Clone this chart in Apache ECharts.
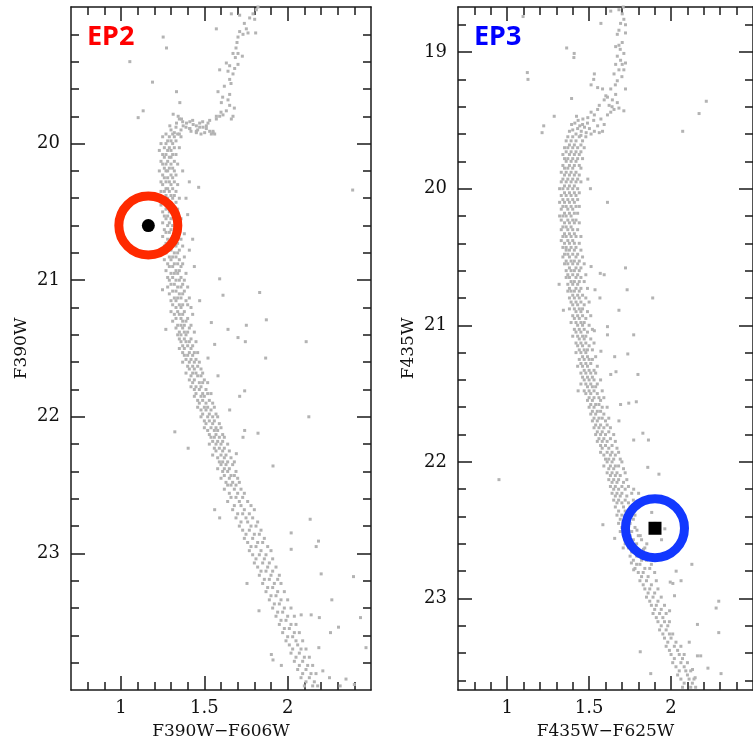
<!DOCTYPE html>
<html>
<head>
<meta charset="utf-8">
<script src="https://cdn.jsdelivr.net/npm/echarts@6/dist/echarts.min.js"></script>
<style>
html, body { margin: 0; padding: 0; background: #fff; }
#chart { width: 753px; height: 745px; }
</style>
</head>
<body>
<div id="chart"></div>
<script>
// tick values (colour axis shared by both panels)
var xMajorTicks = [1, 1.5, 2];
var xMinorTicks = [0.8, 0.9, 1.1, 1.2, 1.3, 1.4, 1.6, 1.7, 1.8, 1.9, 2.1, 2.2, 2.3, 2.4];
var ep2YMajor = [20, 21, 22, 23];
var ep2YMinor = [19.2, 19.4, 19.6, 19.8, 20.2, 20.4, 20.6, 20.8, 21.2, 21.4, 21.6, 21.8, 22.2, 22.4, 22.6, 22.8, 23.2, 23.4, 23.6, 23.8];
var ep3YMajor = [19, 20, 21, 22, 23];
var ep3YMinor = [18.8, 19.2, 19.4, 19.6, 19.8, 20.2, 20.4, 20.6, 20.8, 21.2, 21.4, 21.6, 21.8, 22.2, 22.4, 22.6, 22.8, 23.2, 23.4, 23.6];

// EP2 panel: F390W-F606W vs F390W
var ep2Star = [1.164, 20.6];
var ep2Rgb = [
  [1.812,19.02],[1.792,19.05],[1.772,19.08],[1.802,19.09],[1.712,19.06],[1.662,19.05],[1.822,19.0],[1.752,19.16],
  [1.712,19.18],[1.762,19.19],[1.702,19.22],[1.732,19.20],[1.808,19.19],[1.74,19.12],[1.696,19.26],[1.69,19.30],
  [1.672,19.34],[1.702,19.34],[1.686,19.37],[1.728,19.36],[1.652,19.43],[1.702,19.42],[1.682,19.45],[1.642,19.47],
  [1.672,19.49],[1.652,19.53],[1.632,19.41],[1.592,19.46],[1.66,19.56],[1.62,19.58],[1.582,19.62],[1.652,19.64],
  [1.61,19.66],[1.642,19.68],[1.602,19.70],[1.652,19.72],[1.68,19.74],[1.632,19.76],[1.60,19.77],[1.672,19.80],
  [1.662,19.82],[1.572,19.80],[1.532,19.83],[1.512,19.87],[1.472,19.88],[1.452,19.91],[1.412,19.89],[1.552,19.91],
  [1.562,19.93],[1.313,19.785],[1.343,19.80],[1.363,19.82],[1.393,19.85],[1.413,19.84],[1.433,19.86],[1.452,19.87],
  [1.472,19.85],[1.492,19.88],[1.512,19.89],[1.532,19.91],[1.552,19.92],[1.522,19.85],[1.572,19.82],[1.592,19.80],
  [1.612,19.79],[1.373,19.87],[1.333,19.85],[1.293,19.87],[1.413,19.89],[1.452,19.92],[1.502,19.92],[1.542,19.93],
  [1.35,19.82],[1.37,19.84],[1.43,19.83],[1.49,19.84],[1.30,19.90],[1.33,19.88],[1.36,19.90],[1.39,19.88],
  [1.42,19.91],[1.46,19.90],[1.48,19.93],[1.32,19.92],[1.35,19.93]
];
// main sequence rows: [F390W, colours...]
var ep2MsRows = [
  [19.93,1.27,1.31,1.34],[19.95,1.25,1.29,1.32,1.36],[19.98,1.28,1.30,1.33],[20.00,1.24,1.27,1.31],
  [20.03,1.26,1.29,1.32,1.35],[20.05,1.23,1.28,1.30],[20.08,1.25,1.27,1.31,1.33],[20.10,1.26,1.29,1.30],
  [20.13,1.24,1.28,1.32],[20.15,1.25,1.27,1.30,1.34],[20.18,1.26,1.29,1.31],[20.20,1.23,1.27,1.28,1.32],
  [20.23,1.25,1.30,1.33],[20.25,1.26,1.28,1.31],[20.28,1.24,1.27,1.29,1.32],[20.30,1.25,1.30,1.34],
  [20.33,1.27,1.28,1.31],[20.35,1.24,1.26,1.29,1.33],[20.38,1.27,1.30,1.32],[20.40,1.25,1.28,1.31,1.35],
  [20.43,1.26,1.29,1.33],[20.45,1.24,1.28,1.30],[20.48,1.27,1.30,1.32,1.34],[20.50,1.25,1.29,1.31],
  [20.53,1.26,1.28,1.33],[20.55,1.27,1.30,1.32,1.36],[20.58,1.25,1.29,1.34],[20.60,1.28,1.31,1.33],
  [20.63,1.26,1.30,1.32,1.35],[20.65,1.27,1.29,1.34],[20.68,1.25,1.31,1.33],[20.70,1.28,1.30,1.32,1.36],
  [20.73,1.27,1.29,1.34],[20.75,1.26,1.31,1.33,1.37],[20.78,1.28,1.30,1.35],[20.80,1.27,1.32,1.34],
  [20.83,1.29,1.31,1.33,1.38],[20.85,1.26,1.30,1.35],[20.88,1.28,1.32,1.34,1.37],[20.90,1.29,1.31,1.36],
  [20.93,1.27,1.33,1.35],[20.95,1.30,1.32,1.34,1.39],[20.98,1.28,1.31,1.36],[21.00,1.29,1.33,1.35,1.38],
  [21.03,1.30,1.32,1.37],[21.05,1.28,1.34,1.36,1.40],[21.08,1.31,1.33,1.38],[21.10,1.29,1.35,1.37],
  [21.13,1.32,1.34,1.36,1.41],[21.15,1.30,1.33,1.39],[21.18,1.31,1.35,1.37,1.40],[21.20,1.33,1.36,1.42],
  [21.23,1.30,1.34,1.38],[21.25,1.32,1.35,1.37,1.43],[21.28,1.33,1.36,1.40],[21.30,1.31,1.37,1.39],
  [21.33,1.34,1.36,1.38,1.42],[21.35,1.33,1.37,1.41],[21.38,1.35,1.38,1.40,1.44],[21.40,1.34,1.36,1.39],
  [21.43,1.35,1.38,1.42],[21.45,1.36,1.39,1.41,1.45],[21.48,1.37,1.40,1.43],[21.50,1.35,1.38,1.42],
  [21.53,1.37,1.41,1.44,1.46],[21.55,1.38,1.40,1.43],[21.58,1.39,1.42,1.45],[21.60,1.37,1.41,1.44,1.47],
  [21.63,1.40,1.43,1.46],[21.65,1.41,1.44,1.48],[21.68,1.39,1.43,1.45,1.49],[21.70,1.42,1.46,1.48],
  [21.73,1.41,1.44,1.50],[21.75,1.43,1.47,1.49,1.52],[21.78,1.42,1.45,1.48],[21.80,1.44,1.47,1.51],
  [21.83,1.45,1.49,1.52,1.54],[21.85,1.44,1.48,1.50],[21.88,1.46,1.49,1.53],[21.90,1.47,1.51,1.55],
  [21.93,1.46,1.50,1.52,1.56],[21.95,1.48,1.51,1.54],[21.98,1.49,1.53,1.57],[22.00,1.48,1.52,1.55,1.58],
  [22.03,1.50,1.53,1.56],[22.05,1.51,1.55,1.59],[22.08,1.50,1.54,1.57,1.60],[22.10,1.52,1.56,1.58],
  [22.13,1.53,1.57,1.61],[22.15,1.54,1.56,1.59,1.62],[22.18,1.55,1.58,1.61],[22.20,1.53,1.57,1.60,1.64],
  [22.23,1.56,1.59,1.62],[22.25,1.57,1.61,1.65],[22.28,1.55,1.60,1.63],[22.30,1.58,1.62,1.66],
  [22.33,1.59,1.61,1.64,1.68],[22.35,1.60,1.63,1.67],[22.38,1.58,1.62,1.65],[22.40,1.61,1.64,1.69],
  [22.43,1.62,1.66,1.68],[22.45,1.60,1.65,1.70],[22.48,1.63,1.67,1.71],[22.50,1.64,1.66,1.69],
  [22.53,1.62,1.68,1.72],[22.56,1.65,1.70,1.74],[22.59,1.66,1.69,1.73],[22.62,1.64,1.71,1.76],
  [22.65,1.68,1.72,1.78],[22.68,1.67,1.74,1.80],[22.71,1.70,1.73,1.77],[22.74,1.69,1.75,1.79],
  [22.77,1.72,1.76,1.82],[22.80,1.71,1.78,1.81],[22.83,1.73,1.77,1.84],[22.86,1.75,1.80,1.83],
  [22.89,1.74,1.79,1.86],[22.92,1.76,1.82,1.85],[22.95,1.78,1.81,1.88],[22.98,1.77,1.84,1.90],
  [23.01,1.79,1.83,1.87],[23.04,1.81,1.86,1.91],[23.07,1.80,1.85,1.89],[23.10,1.82,1.88,1.93],
  [23.13,1.84,1.87,1.91],[23.16,1.83,1.90,1.95],[23.19,1.86,1.89,1.94],[23.22,1.85,1.92,1.96],
  [23.25,1.88,1.91],[23.28,1.87,1.94,1.98],[23.31,1.90,1.93],[23.34,1.89,1.96,2.00],
  [23.37,1.92,1.95],[23.40,1.91,1.98,2.02],[23.43,1.94,1.97],[23.46,1.93,2.00,2.04],
  [23.49,1.96,1.99],[23.52,1.95,2.02,2.05],[23.55,1.98,2.01],[23.58,1.97,2.04,2.07],
  [23.61,2.00,2.03],[23.64,1.99,2.05,2.09],[23.67,2.01,2.06],[23.70,2.03,2.08,2.11],
  [23.73,2.02,2.07],[23.76,2.05,2.10,2.13],[23.79,2.04,2.09],[23.82,2.07,2.12,2.15],
  [23.85,2.06,2.11],[23.88,2.09,2.14,2.17],[23.91,2.08,2.13],[23.94,2.11,2.16],[23.97,2.10,2.15,2.18]
];
var ep2Field = [
  [1.572,19.16],[1.253,19.22],[1.273,19.30],[1.053,19.40],[1.189,19.55],[1.333,19.62],[1.133,19.76],[1.103,19.81],
  [1.353,19.70],[2.39,20.34],[1.41,20.28],[1.466,20.32],[1.37,20.20],[1.39,20.40],[1.40,20.52],[1.38,20.66],
  [1.43,20.70],[1.41,20.78],[1.44,20.90],[1.592,20.99],[1.612,21.11],[1.832,21.09],[1.872,21.29],[1.752,21.33],
  [2.111,21.45],[1.868,21.57],[1.742,21.81],[1.712,21.85],[2.127,22.00],[1.822,22.12],[1.912,22.36],[1.652,21.95],
  [1.323,22.11],[1.403,22.23],[1.249,21.07],[1.269,21.36],[1.472,21.15],[1.542,21.31],[1.642,21.36],[1.702,21.42],
  [1.746,21.45],[1.562,21.47],[1.522,21.57],[1.582,21.70],[1.732,22.15],[1.742,22.10],[1.692,22.27],[2.135,22.75],
  [2.021,22.85],[2.185,22.91],[2.171,22.95],[2.021,22.97],[2.201,23.15],[2.395,23.17],[2.265,23.34],[2.437,23.47],
  [2.257,23.58],[2.305,23.54],[2.47,23.69],[2.081,23.45],[2.141,23.45],[2.19,23.47],[2.187,23.69],[2.211,23.86],
  [2.251,23.91],[2.35,23.92],[2.315,23.97],[2.40,23.96],[1.828,23.42],[1.756,23.22],[1.562,22.68],[1.592,22.74],
  [1.912,23.78],[1.902,23.74],[1.962,23.82]
];

// EP3 panel: F435W-F625W vs F435W
var ep3Star = [1.902, 22.486];
var ep3Rgb = [
  [1.708,18.67],[1.702,18.72],[1.712,18.76],[1.692,18.79],[1.722,18.80],[1.682,18.84],[1.672,18.87],[1.722,18.86],
  [1.702,18.93],[1.682,18.95],[1.662,18.96],[1.712,19.01],[1.672,19.03],[1.692,19.06],[1.722,19.08],[1.702,19.09],
  [1.662,19.09],[1.682,19.13],[1.712,19.13],[1.652,19.16],[1.672,19.21],[1.722,19.27],[1.632,19.27],[1.662,19.31],
  [1.642,19.35],[1.672,19.37],[1.622,19.39],[1.652,19.42],[1.682,19.41],[1.632,19.44],[1.712,19.43],[1.612,19.46],
  [1.592,19.35],[1.562,19.39],[1.552,19.42],[1.532,19.46],[1.512,19.44],[1.492,19.48],[1.462,19.49],[1.433,19.50],
  [1.413,19.52],[1.443,19.54],[1.472,19.55],[1.502,19.56],[1.532,19.58],[1.562,19.59],[1.512,19.60],[1.482,19.59],
  [1.452,19.58],[1.393,19.53],[1.423,19.47],[1.572,19.49],[1.592,19.53],[1.582,19.58],[1.552,19.54],[1.528,19.50],
  [1.612,19.33],[1.602,19.32],[1.512,19.24],[1.552,19.26],[1.582,19.27],[1.532,19.16],[1.528,19.20],[1.572,18.79],
  [1.632,18.70],[1.682,18.69],[1.69,18.98],[1.70,19.18],[1.66,19.24],[1.64,19.40],[1.40,19.57],[1.43,19.56],
  [1.46,19.53],[1.49,19.52],[1.42,19.60],[1.45,19.61],[1.38,19.58]
];
var ep3MsRows = [
  [19.62,1.37,1.40,1.44,1.48],[19.65,1.36,1.39,1.42,1.46],[19.68,1.38,1.41,1.45],[19.70,1.35,1.37,1.40,1.43,1.47],
  [19.73,1.36,1.39,1.42,1.45],[19.75,1.34,1.38,1.41,1.44],[19.78,1.35,1.37,1.40,1.43,1.46],[19.80,1.36,1.39,1.42],
  [19.83,1.34,1.38,1.41,1.44],[19.85,1.35,1.37,1.40,1.45],[19.88,1.33,1.36,1.39,1.42],[19.90,1.35,1.38,1.41,1.44],
  [19.93,1.34,1.37,1.40,1.43],[19.95,1.33,1.36,1.39,1.42,1.45],[19.98,1.35,1.38,1.41],[20.00,1.32,1.34,1.37,1.40,1.43],
  [20.03,1.35,1.38,1.41,1.44],[20.05,1.33,1.36,1.39,1.42],[20.08,1.34,1.37,1.40,1.43],[20.10,1.32,1.35,1.38,1.41],
  [20.13,1.34,1.36,1.39,1.42,1.44],[20.15,1.33,1.37,1.40],[20.18,1.35,1.38,1.41,1.43],[20.20,1.32,1.34,1.36,1.39],
  [20.23,1.33,1.37,1.40,1.42],[20.25,1.35,1.38,1.41,1.44],[20.28,1.34,1.36,1.39],[20.30,1.33,1.37,1.40,1.43],
  [20.33,1.35,1.38,1.41],[20.35,1.34,1.36,1.39,1.42,1.45],[20.38,1.33,1.37,1.40],[20.40,1.35,1.38,1.41,1.44],
  [20.43,1.34,1.36,1.39,1.42],[20.45,1.36,1.38,1.41,1.45],[20.48,1.35,1.37,1.40,1.43],[20.50,1.34,1.38,1.42,1.46],
  [20.53,1.36,1.39,1.41,1.44],[20.55,1.35,1.37,1.40,1.43,1.47],[20.58,1.38,1.42,1.45],[20.60,1.36,1.39,1.41,1.44],
  [20.63,1.37,1.40,1.43,1.48],[20.65,1.36,1.38,1.42,1.45],[20.68,1.39,1.41,1.44,1.47],[20.70,1.37,1.40,1.43],
  [20.73,1.38,1.42,1.45,1.49],[20.75,1.37,1.39,1.41,1.44],[20.78,1.40,1.43,1.46],[20.80,1.38,1.41,1.44,1.48],
  [20.83,1.39,1.42,1.45,1.50],[20.85,1.40,1.43,1.47],[20.88,1.38,1.41,1.44,1.46],[20.90,1.42,1.45,1.49],
  [20.93,1.40,1.43,1.46,1.51],[20.95,1.41,1.44,1.48],[20.98,1.39,1.42,1.45,1.47],[21.00,1.43,1.46,1.50],
  [21.03,1.41,1.44,1.47,1.52],[21.05,1.42,1.45,1.49],[21.08,1.40,1.43,1.46,1.48],[21.10,1.44,1.47,1.51],
  [21.13,1.42,1.45,1.48,1.53],[21.15,1.43,1.46,1.50],[21.18,1.44,1.47,1.49,1.52],[21.20,1.42,1.45,1.48],
  [21.23,1.46,1.49,1.54],[21.25,1.44,1.47,1.50,1.52],[21.28,1.45,1.48,1.51],[21.30,1.43,1.46,1.49,1.55],
  [21.33,1.47,1.50,1.53],[21.35,1.45,1.48,1.51,1.54],[21.38,1.46,1.49,1.52],[21.40,1.47,1.50,1.53,1.57],
  [21.43,1.45,1.48,1.51,1.55],[21.45,1.49,1.52,1.54],[21.48,1.47,1.50,1.53,1.58],[21.50,1.48,1.51,1.55],
  [21.53,1.50,1.53,1.56,1.59],[21.55,1.49,1.52,1.57],[21.58,1.51,1.54,1.56],[21.60,1.50,1.53,1.58,1.61],
  [21.63,1.52,1.55,1.57],[21.65,1.51,1.54,1.59],[21.68,1.53,1.56,1.58,1.62],[21.70,1.52,1.55,1.60],
  [21.73,1.54,1.57,1.61],[21.75,1.53,1.56,1.59,1.63],[21.78,1.55,1.58,1.62],[21.80,1.54,1.57,1.60,1.65],
  [21.83,1.56,1.59,1.63],[21.85,1.55,1.58,1.61,1.66],[21.88,1.57,1.60,1.64],[21.90,1.58,1.62,1.67],
  [21.93,1.57,1.61,1.64,1.68],[21.95,1.59,1.63,1.66],[21.98,1.60,1.62,1.65,1.69],[22.00,1.61,1.64,1.70],
  [22.03,1.59,1.63,1.66,1.68],[22.05,1.62,1.65,1.71],[22.08,1.61,1.64,1.67,1.72],[22.10,1.63,1.66,1.69],
  [22.13,1.62,1.65,1.68,1.73],[22.15,1.64,1.67,1.71],[22.18,1.63,1.66,1.70,1.74],[22.20,1.65,1.68,1.72],
  [22.23,1.64,1.67,1.70,1.76],[22.25,1.66,1.69,1.73],[22.28,1.65,1.68,1.72,1.77],[22.30,1.67,1.70,1.74],
  [22.33,1.66,1.71,1.75,1.79],[22.36,1.68,1.72,1.76],[22.39,1.67,1.70,1.74,1.78],[22.42,1.69,1.73,1.77],
  [22.45,1.68,1.71,1.75],[22.48,1.70,1.74,1.78],[22.51,1.69,1.72,1.76],[22.54,1.71,1.75,1.80],
  [22.57,1.73,1.77,1.82],[22.60,1.72,1.76,1.79],[22.63,1.74,1.78,1.84],[22.66,1.76,1.80,1.83],
  [22.69,1.75,1.79,1.86],[22.72,1.77,1.82,1.85],[22.75,1.79,1.81,1.88],[22.78,1.78,1.84,1.87],
  [22.81,1.80,1.83,1.90],[22.84,1.82,1.86],[22.87,1.81,1.85,1.91],[22.90,1.83,1.88],
  [22.93,1.84,1.87,1.92],[22.96,1.86,1.90],[22.99,1.85,1.89,1.94],[23.02,1.87,1.92],
  [23.05,1.88,1.91,1.96],[23.08,1.90,1.94],[23.11,1.89,1.93,1.97],[23.14,1.91,1.95],
  [23.17,1.92,1.96,1.99],[23.20,1.94,1.98],[23.23,1.93,1.97],[23.26,1.95,1.99,2.01],
  [23.29,1.96,2.00],[23.32,1.98,2.03],[23.35,1.97,2.02,2.06],[23.38,1.99,2.04],
  [23.41,2.00,2.05,2.08],[23.44,2.02,2.07],[23.47,2.01,2.06,2.10],[23.50,2.03,2.08],
  [23.53,2.05,2.09,2.12],[23.56,2.04,2.10],[23.59,2.06,2.11,2.14],[23.62,2.08,2.13],[23.65,2.07,2.12,2.15]
];
var ep3Field = [
  [1.097,18.74],[1.123,19.15],[1.127,19.20],[1.363,18.97],[1.409,19.01],[1.407,19.04],[1.393,19.34],[1.287,19.47],
  [1.223,19.54],[1.213,19.59],[2.071,19.58],[2.171,19.45],[2.215,19.36],[1.612,20.10],[1.492,19.93],[1.508,20.00],
  [1.722,20.58],[1.732,20.74],[1.888,20.80],[1.772,21.07],[1.736,21.21],[1.798,21.36],[1.742,21.57],[1.788,21.56],
  [1.828,21.79],[1.862,21.84],[1.772,21.84],[1.926,22.09],[1.858,22.04],[1.317,20.70],[1.343,20.89],[1.433,21.48],
  [1.656,21.23],[1.632,21.36],[1.664,21.34],[1.692,21.58],[1.566,20.80],[1.612,21.01],[1.612,21.07],[1.568,20.62],
  [1.592,20.63],[1.512,20.57],[1.536,20.74],[1.682,20.89],[1.532,21.04],[1.572,21.19],[1.682,21.70],[1.772,22.20],
  [1.802,22.23],[0.95,22.13],[1.584,22.46],[1.656,22.56],[1.812,23.39],[1.876,23.55],[2.127,22.75],[2.061,22.87],
  [1.995,22.88],[2.275,23.07],[2.291,23.02],[2.291,23.25],[2.161,23.19],[2.111,23.32],[2.161,23.42],[2.181,23.42],
  [2.225,23.51],[2.305,23.55],[2.131,23.52],[2.147,23.58],[1.708,22.63],[1.758,22.74],[1.772,22.79],[2.031,22.80],
  [2.011,22.89],[1.991,23.09],[2.021,22.98],[1.882,22.37],[1.902,22.45],[1.962,22.49],[1.812,22.54],[1.852,22.60],
  [1.942,22.57],[1.792,22.50],[1.832,22.64],[1.772,22.62]
];

function rowsToPoints(rows) {
  var pts = [];
  rows.forEach(function (r) {
    for (var i = 1; i < r.length; i++) pts.push([r[i], r[0]]);
  });
  return pts;
}

var LINE = { color: '#1a1a1a', width: 1.5 };
var SERIF = 'DejaVu Serif';

// one panel = 4 x axes + 4 y axes (major/minor ticks on each side of the box)
function xAxes(grid, name) {
  var base = { type: 'value', gridIndex: grid, min: 0.7, max: 2.5, splitLine: { show: false } };
  return [
    Object.assign({}, base, {
      position: 'bottom', name: name, nameLocation: 'middle', nameGap: 33,
      nameTextStyle: { fontFamily: SERIF, fontSize: 17, color: '#111' },
      axisLine: { show: true, lineStyle: LINE },
      axisTick: { show: true, inside: true, length: 14, customValues: xMajorTicks, lineStyle: LINE },
      axisLabel: { show: true, customValues: xMajorTicks, margin: 9, fontFamily: SERIF, fontSize: 18, color: '#111' }
    }),
    Object.assign({}, base, {
      position: 'bottom', axisLine: { show: false },
      axisTick: { show: true, inside: true, length: 8, customValues: xMinorTicks, lineStyle: LINE },
      axisLabel: { show: false }
    }),
    Object.assign({}, base, {
      position: 'top', axisLine: { show: true, lineStyle: LINE },
      axisTick: { show: true, inside: true, length: 14, customValues: xMajorTicks, lineStyle: LINE },
      axisLabel: { show: false }
    }),
    Object.assign({}, base, {
      position: 'top', axisLine: { show: false },
      axisTick: { show: true, inside: true, length: 8, customValues: xMinorTicks, lineStyle: LINE },
      axisLabel: { show: false }
    })
  ];
}

function yAxes(grid, name, min, max, major, minor) {
  var base = { type: 'value', gridIndex: grid, min: min, max: max, inverse: true, splitLine: { show: false } };
  return [
    Object.assign({}, base, {
      position: 'left', name: name, nameLocation: 'middle', nameGap: 41, nameRotate: 90,
      nameTextStyle: { fontFamily: SERIF, fontSize: 17, color: '#111' },
      axisLine: { show: true, lineStyle: LINE },
      axisTick: { show: true, inside: true, length: 14, customValues: major, lineStyle: LINE },
      axisLabel: { show: true, customValues: major, margin: 11, fontFamily: SERIF, fontSize: 18, color: '#111' }
    }),
    Object.assign({}, base, {
      position: 'left', axisLine: { show: false },
      axisTick: { show: true, inside: true, length: 8, customValues: minor, lineStyle: LINE },
      axisLabel: { show: false }
    }),
    Object.assign({}, base, {
      position: 'right', axisLine: { show: true, lineStyle: LINE },
      axisTick: { show: true, inside: true, length: 14, customValues: major, lineStyle: LINE },
      axisLabel: { show: false }
    }),
    Object.assign({}, base, {
      position: 'right', axisLine: { show: false },
      axisTick: { show: true, inside: true, length: 8, customValues: minor, lineStyle: LINE },
      axisLabel: { show: false }
    })
  ];
}

function panelSeries(axisIdx, stars, star, ringColor, starSymbol) {
  return [
    {
      type: 'scatter', xAxisIndex: axisIdx, yAxisIndex: axisIdx, data: stars,
      symbol: 'rect', symbolSize: 3, itemStyle: { color: '#b3b3b3', opacity: 1 }, silent: true
    },
    {
      type: 'scatter', xAxisIndex: axisIdx, yAxisIndex: axisIdx, data: [star],
      symbol: starSymbol, symbolSize: 13, itemStyle: { color: '#000', opacity: 1 }, z: 3
    },
    {
      type: 'scatter', xAxisIndex: axisIdx, yAxisIndex: axisIdx, data: [star],
      symbol: 'circle', symbolSize: 59, z: 4,
      itemStyle: { color: 'rgba(0,0,0,0)', borderColor: ringColor, borderWidth: 9, opacity: 1 }
    }
  ];
}

var ep2Stars = ep2Rgb.concat(rowsToPoints(ep2MsRows), ep2Field);
var ep3Stars = ep3Rgb.concat(rowsToPoints(ep3MsRows), ep3Field);

var chart = echarts.init(document.getElementById('chart'));
chart.setOption({
  animation: false,
  backgroundColor: '#fff',
  title: [
    { text: 'EP2', left: 87, top: 24, padding: 0,
      textStyle: { color: '#ff0000', fontFamily: 'Noto Sans', fontWeight: 'bold', fontSize: 27 } },
    { text: 'EP3', left: 474, top: 24, padding: 0,
      textStyle: { color: '#0000ff', fontFamily: 'Noto Sans', fontWeight: 'bold', fontSize: 27 } }
  ],
  grid: [
    { left: 71, top: 7, width: 300, height: 686 },
    { left: 458, top: 7, width: 301, height: 686 }
  ],
  xAxis: xAxes(0, 'F390W\u2212F606W').concat(xAxes(1, 'F435W\u2212F625W')),
  yAxis: yAxes(0, 'F390W', 19, 24, ep2YMajor, ep2YMinor)
    .concat(yAxes(1, 'F435W', 18.67, 23.67, ep3YMajor, ep3YMinor)),
  series: panelSeries(0, ep2Stars, ep2Star, '#ff2a00', 'circle')
    .concat(panelSeries(4, ep3Stars, ep3Star, '#1238ff', 'rect'))
});
</script>
</body>
</html>
